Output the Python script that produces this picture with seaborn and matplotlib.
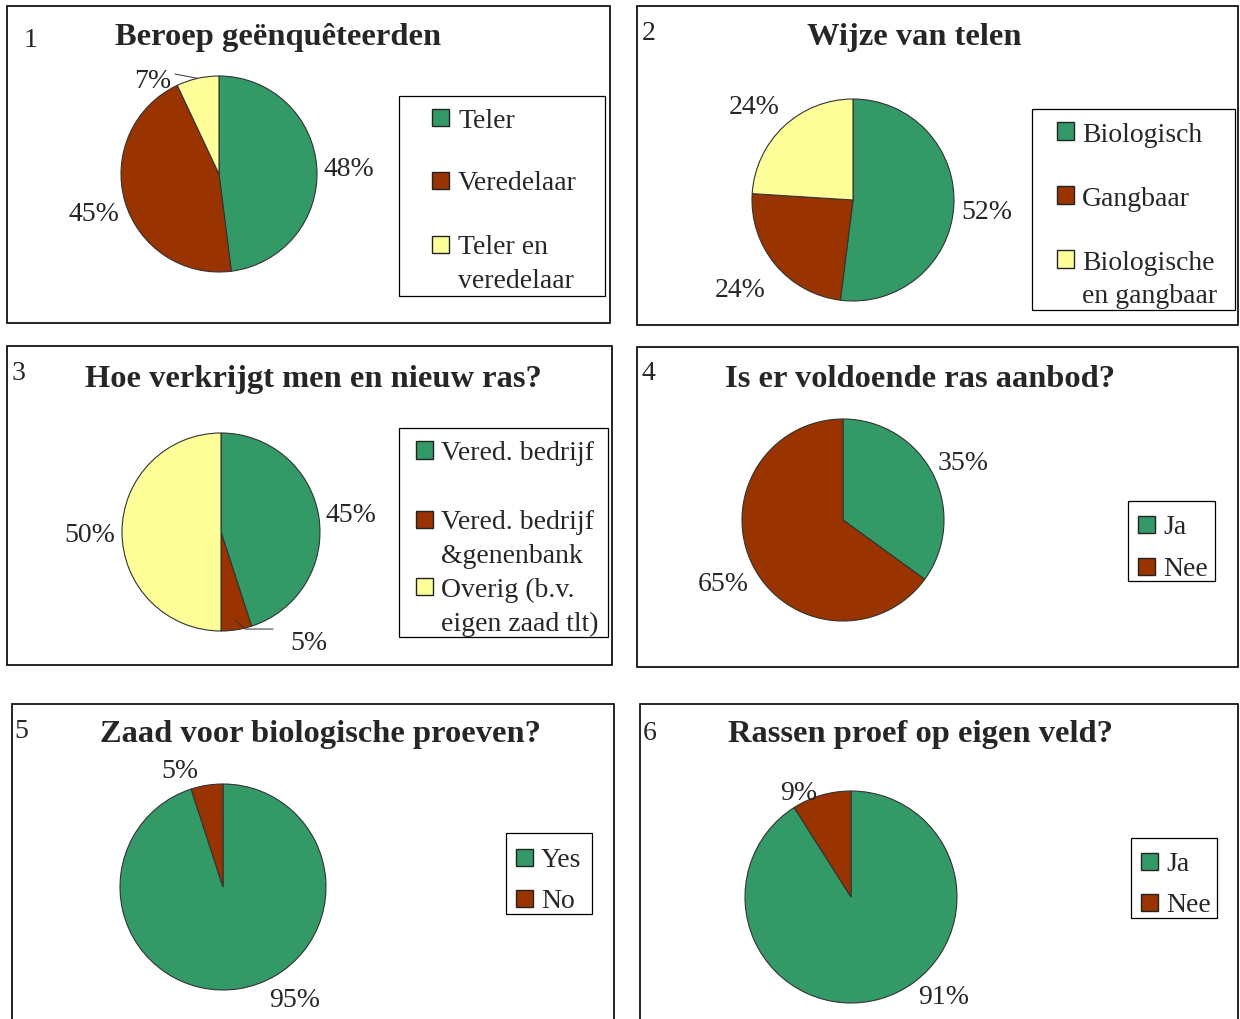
import numpy as np
import matplotlib
matplotlib.use('Agg')
import matplotlib.pyplot as plt
from matplotlib.patches import Rectangle
import seaborn as sns

# Survey answers (percent), one pie per question
beroep_labels = ['Teler', 'Veredelaar', 'Teler en\nveredelaar']
beroep_values = [48, 45, 7]

telen_labels = ['Biologisch', 'Gangbaar', 'Biologische\nen gangbaar']
telen_values = [52, 24, 24]

ras_labels = ['Vered. bedrijf', 'Vered. bedrijf\n&genenbank', 'Overig (b.v.\neigen zaad tlt)']
ras_values = [45, 5, 50]

aanbod_labels = ['Ja', 'Nee']
aanbod_values = [35, 65]

zaad_labels = ['Yes', 'No']
zaad_values = [95, 5]

proef_labels = ['Ja', 'Nee']
proef_values = [91, 9]

titles = ['Beroep geënquêteerden', 'Wijze van telen', 'Hoe verkrijgt men en nieuw ras?',
          'Is er voldoende ras aanbod?', 'Zaad voor biologische proeven?',
          'Rassen proef op eigen veld?']

PALETTE = sns.color_palette(['#339966', '#993300', '#FFFF99'])

W, H = 1240, 1020

sns.set_theme(style='white')
plt.rcParams['font.family'] = ['Liberation Serif', 'DejaVu Serif']

# layout of each panel, in pixels (top-left origin)
PANELS = [
    dict(data=(beroep_labels, beroep_values), box=(7, 7, 610, 324), num=(24, 47), title=(278, 45),
         pie=(219, 175, 98), leg_box=(399, 97, 605, 297), leg_x=(432, 458), rows=[118, 181, 245],
         label_pos={2: (124.6, 1.2)}, leaders={2: (1.0, [(113.8, 1.115)])}),
    dict(data=(telen_labels, telen_values), box=(637, 7, 1238, 326), num=(642, 40), title=(914, 45),
         pie=(853, 201, 101), leg_box=(1032, 110, 1235, 311), leg_x=(1057, 1082), rows=[132, 196, 260],
         label_pos={1: (217.3, 1.41), 2: (135.6, 1.37)}, leaders={}),
    dict(data=(ras_labels, ras_values), box=(7, 347, 612, 666), num=(12, 380), title=(313, 387),
         pie=(221, 533, 99), leg_box=(399, 429, 608, 638), leg_x=(416, 441), rows=[451, 520, 587],
         label_pos={1: (-50.6, 1.4)}, leaders={1: (0.9, [(-76.1, 1.01), (-61.8, 1.112)])}),
    dict(data=(aanbod_labels, aanbod_values), box=(637, 348, 1238, 668), num=(641, 380), title=(920, 387),
         pie=(843, 521, 101), leg_box=(1128, 502, 1215, 582), leg_x=(1138, 1163), rows=[525, 567],
         label_pos={}, leaders={}),
    dict(data=(zaad_labels, zaad_values), box=(12, 705, 614, 1040), num=(14, 738), title=(320, 742),
         pie=(223, 888, 103), leg_box=(506, 834, 592, 915), leg_x=(516, 541), rows=[858, 899],
         label_pos={0: (-57, 1.27), 1: (110, 1.23)}, leaders={}),
    dict(data=(proef_labels, proef_values), box=(640, 705, 1238, 1040), num=(643, 740), title=(920, 742),
         pie=(851, 898, 106), leg_box=(1131, 839, 1217, 919), leg_x=(1141, 1166), rows=[862, 903],
         label_pos={0: (-46, 1.26), 1: (116, 1.13)}, leaders={}),
]

FS = 20
TITLE_FS = 23.4
LINE_GAP = 34
SQ = 17


def fx(x):
    return x / W


def fy(y):
    return 1 - y / H


def frame(fig, x0, y0, x1, y1, lw=1.2):
    fig.add_artist(Rectangle((fx(x0), fy(y1)), (x1 - x0) / W, (y1 - y0) / H,
                             transform=fig.transFigure, fill=False, ec='black', lw=lw))


def draw_legend(fig, p, labels):
    frame(fig, *p['leg_box'], lw=0.9)
    sq_x, txt_x = p['leg_x']
    for i, (lab, row) in enumerate(zip(labels, p['rows'])):
        fig.add_artist(Rectangle((fx(sq_x), fy(row + SQ / 2)), SQ / W, SQ / H,
                                 transform=fig.transFigure, fc=PALETTE[i], ec='#222222', lw=1.0))
        for k, line in enumerate(lab.split('\n')):
            fig.text(fx(txt_x), fy(row + k * LINE_GAP), line, fontsize=FS,
                     ha='left', va='center_baseline')


def draw_pie(fig, p, title, num):
    labels, values = p['data']
    x0, y0, x1, y1 = p['box']
    frame(fig, x0, y0, x1, y1)
    fig.text(fx(p['num'][0]), fy(p['num'][1]), str(num), fontsize=FS, ha='left', va='baseline')
    fig.text(fx(p['title'][0]), fy(p['title'][1]), title, fontsize=TITLE_FS, weight='bold',
             ha='center', va='baseline')

    cx, cy, r = p['pie']
    ax = fig.add_axes([fx(cx - r), fy(cy + r), 2 * r / W, 2 * r / H])
    wedges, _ = ax.pie(values, colors=PALETTE[:len(values)], startangle=90, counterclock=False,
                       wedgeprops=dict(edgecolor='#333333', linewidth=0.8))
    ax.set_xlim(-1, 1)
    ax.set_ylim(-1, 1)
    ax.set_aspect('equal')
    ax.axis('off')

    for i, (w, v) in enumerate(zip(wedges, values)):
        mid = 0.5 * (w.theta1 + w.theta2)
        ang, dist = p['label_pos'].get(i, (mid, 1.33))
        a = np.deg2rad(ang)
        ax.text(dist * np.cos(a), dist * np.sin(a), f'{v}%', fontsize=FS,
                ha='center', va='center_baseline', clip_on=False)
        if i in p['leaders']:
            r0, pts = p['leaders'][i]
            m = np.deg2rad(mid)
            xs = [r0 * np.cos(m)] + [d * np.cos(np.deg2rad(t)) for t, d in pts]
            ys = [r0 * np.sin(m)] + [d * np.sin(np.deg2rad(t)) for t, d in pts]
            ax.plot(xs, ys, color='#333333', lw=0.7, clip_on=False)

    draw_legend(fig, p, labels)


fig = plt.figure(figsize=(W / 100, H / 100), dpi=100)
fig.patch.set_facecolor('white')
for n, (p, t) in enumerate(zip(PANELS, titles), start=1):
    draw_pie(fig, p, t, n)

fig.savefig('out.png', dpi=100)
